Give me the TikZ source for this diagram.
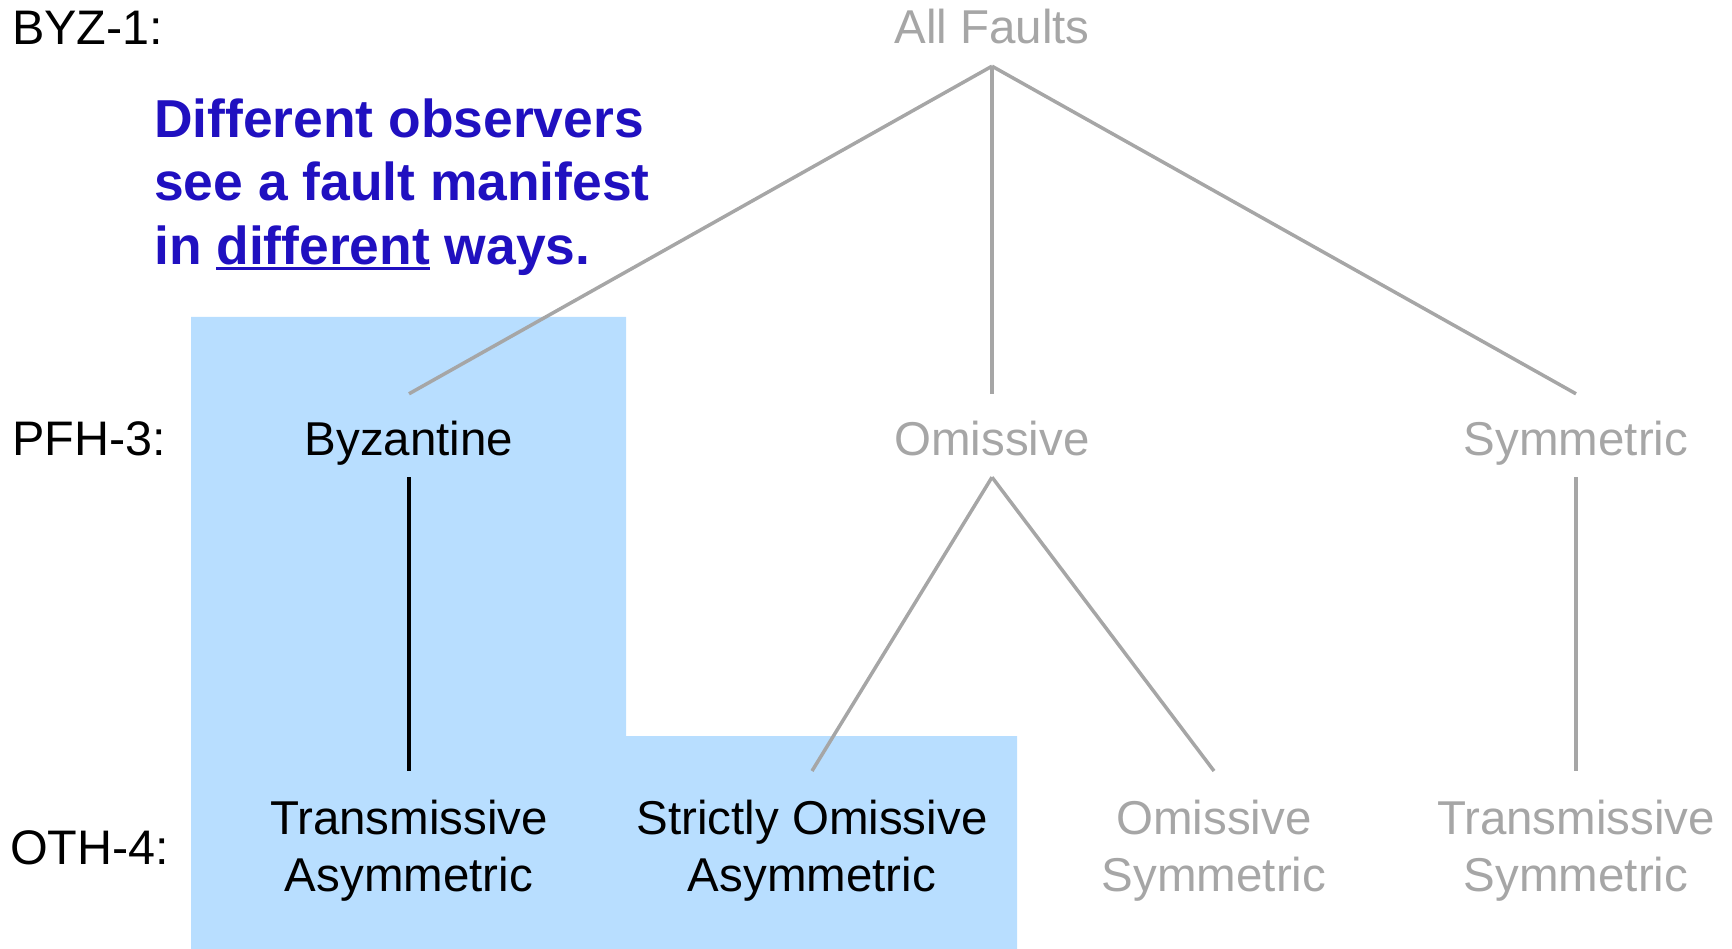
\documentclass[tikz,border=0pt]{standalone}
\usepackage{fontspec}
\setmainfont{Liberation Sans}
\definecolor{fgrey}{RGB}{166,166,166}
\definecolor{fblue}{RGB}{184,222,255}
\definecolor{tblue}{RGB}{32,16,192}
\newcommand{\ulword}[1]{\setbox0\hbox{#1}\rlap{\rule[-5.5pt]{\wd0}{2.5pt}}\box0\relax}
\begin{document}
\begin{tikzpicture}[x=1pt,y=-1pt,
  txt/.style={font=\fontsize{47.5}{57.5}\selectfont, inner sep=0pt},
  one/.style={txt, anchor=base, text height=61pt, text depth=22pt},
  two/.style={txt, anchor=north, align=center},
  grey/.style={text=fgrey},
  lev/.style={font=\fontsize{48.5}{58}\selectfont, inner sep=0pt, anchor=base west},
  gline/.style={draw=fgrey, line width=3.5pt},
  bline/.style={draw=black, line width=3.5pt}]
\useasboundingbox (0,0) rectangle (1732,949);
% highlight region
\fill[fblue] (191,317) -- (626,317) -- (626,736) -- (1017,736) -- (1017,949) -- (191,949) -- cycle;
% level labels
\node[lev] (l1) at (12,45) {BYZ-1:};
\node[lev] (l2) at (12,455) {PFH-3:};
\node[lev] (l3) at (10,864) {OTH-4:};
% note
\node[anchor=north west, align=left, text=tblue, inner sep=0pt,
      font=\bfseries\fontsize{53.4}{63.5}\selectfont] (note) at (154,87)
  {\rule{0pt}{50pt}Different observers\\see a fault manifest\\in \ulword{different} ways.};
% tree nodes
\node[one, grey, text depth=22pt] (allf) at (992,44) {All Faults};
\node[one] (byz) at (409,455) {Byzantine};
\node[one, grey] (omi) at (992,455) {Omissive};
\node[one, grey] (sym) at (1576,455) {Symmetric};
\node[two] (ta) at (409,771) {\rule{0pt}{63pt}Transmissive\\Asymmetric};
\node[two] (soa) at (812,771) {\rule{0pt}{63pt}Strictly Omissive\\Asymmetric};
\node[two, grey] (os) at (1214,771) {\rule{0pt}{63pt}Omissive\\Symmetric};
\node[two, grey] (ts) at (1576,771) {\rule{0pt}{63pt}Transmissive\\Symmetric};
% connectors
\draw[gline] (allf.south) -- (byz.north);
\draw[gline] (allf.south) -- (omi.north);
\draw[gline] (allf.south) -- (sym.north);
\draw[bline] (byz.south) -- (ta.north);
\draw[gline] (omi.south) -- (soa.north);
\draw[gline] (omi.south) -- (os.north);
\draw[gline] (sym.south) -- (ts.north);
\end{tikzpicture}
\end{document}
